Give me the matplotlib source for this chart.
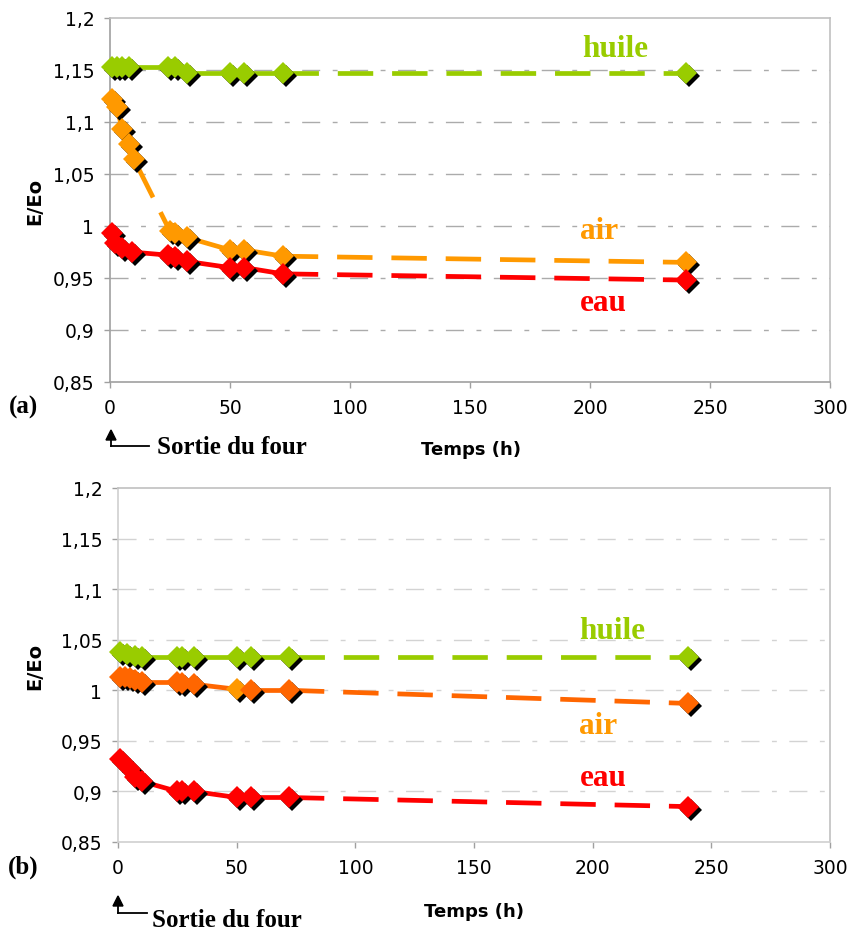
import matplotlib
matplotlib.use("Agg")
import matplotlib.pyplot as plt
import matplotlib.transforms as mtransforms
from matplotlib.lines import Line2D

# ---------------- data ----------------
x_ticks = [0, 50, 100, 150, 200, 250, 300]
y_ticks = [0.85, 0.9, 0.95, 1.0, 1.05, 1.1, 1.15, 1.2]

# (a)
t_a_huile = [1, 3, 5, 8, 24, 27, 32, 50, 56, 72, 240]
v_a_huile = [1.153, 1.153, 1.153, 1.153, 1.153, 1.153, 1.147, 1.147, 1.147, 1.147, 1.147]
t_a_air = [1, 3, 5, 8, 10, 25, 27, 32, 50, 56, 72, 240]
v_a_air = [1.122, 1.114, 1.093, 1.079, 1.064, 0.995, 0.993, 0.989, 0.977, 0.977, 0.971, 0.965]
t_a_eau = [1, 2, 5, 9, 24, 27, 32, 50, 56, 72, 240]
v_a_eau = [0.993, 0.984, 0.979, 0.975, 0.972, 0.970, 0.966, 0.960, 0.960, 0.954, 0.948]

# (b)
t_b_huile = [1, 4, 7, 10, 25, 27, 32, 50, 56, 72, 240]
v_b_huile = [1.038, 1.036, 1.034, 1.033, 1.033, 1.033, 1.033, 1.033, 1.033, 1.033, 1.033]
t_b_air = [1, 3, 5, 7, 10, 25, 27, 32, 50, 56, 72, 240]
v_b_air = [1.013, 1.013, 1.012, 1.010, 1.008, 1.008, 1.007, 1.006, 1.001, 1.000, 1.000, 0.987]
t_b_eau = [1, 5, 7, 10, 25, 27, 32, 50, 56, 72, 240]
v_b_eau = [0.932, 0.922, 0.914, 0.910, 0.900, 0.900, 0.900, 0.894, 0.894, 0.894, 0.885]

GREEN = "#99CC00"
ORANGE = "#FF9900"
ORANGE_B = "#FF6600"
RED = "#FF0000"

W, H = 852, 937
fig = plt.figure(figsize=(W / 100, H / 100), dpi=100)


def px_axes(l, t, r, b):
    return fig.add_axes([l / W, 1 - b / H, (r - l) / W, (b - t) / H])


def fmt(v):
    s = f"{v:g}"
    return s.replace(".", ",")


def style_axes(ax, gridcol, axcol):
    ax.set_xlim(0, 300)
    ax.set_ylim(0.85, 1.2)
    ax.set_xticks(x_ticks)
    ax.set_xticklabels([str(v) for v in x_ticks])
    ax.set_yticks(y_ticks)
    ax.set_yticklabels([fmt(v) for v in y_ticks])
    ax.tick_params(axis="both", direction="out", length=4.3, width=1,
                   color="#A0A0A0", labelsize=13.5, pad=7, labelcolor="black")
    for side in ["top", "right"]:
        ax.spines[side].set_color("#C0C0C0")
        ax.spines[side].set_linewidth(1.2)
    for side in ["left", "bottom"]:
        ax.spines[side].set_color(axcol)
        ax.spines[side].set_linewidth(1.2)
    for v in y_ticks[1:-1]:
        ax.axhline(v, color=gridcol, lw=1.0, dashes=(13, 9, 3.5, 9), zorder=0.5)


def draw_series(ax, t, v, color, dashed_segments, marker_colors=None,
                gap_segments=()):
    n = len(t)
    for k in range(n - 1):
        seg_t = [t[k], t[k + 1]]
        seg_v = [v[k], v[k + 1]]
        if k in dashed_segments:
            ax.plot(seg_t, seg_v, color=color, lw=3.4, dashes=(7.5, 4),
                    dash_capstyle="butt", zorder=2)
        elif k in gap_segments:
            ax.plot(seg_t, seg_v, color=color, lw=3.4, dashes=(9, 3.5),
                    dash_capstyle="butt", zorder=2)
        else:
            ax.plot(seg_t, seg_v, color=color, lw=3.4, solid_capstyle="round",
                    zorder=2)
    shadow = mtransforms.offset_copy(ax.transData, fig=fig, x=3, y=-3,
                                     units="dots")
    ax.plot(t, v, ls="none", marker="D", ms=11, mew=0, color="black",
            transform=shadow, zorder=3, clip_on=False)
    cols = marker_colors if marker_colors else [color] * n
    for ti, vi, c in zip(t, v, cols):
        ax.plot([ti], [vi], ls="none", marker="D", ms=11, mew=0, color=c,
                zorder=4, clip_on=False)


# ---------------- (a) ----------------
axa = px_axes(110, 19, 830, 383)
style_axes(axa, "#ABABAB", "#A0A0A0")
draw_series(axa, t_a_huile, v_a_huile, GREEN, {len(t_a_huile) - 2})
draw_series(axa, t_a_air, v_a_air, ORANGE, {len(t_a_air) - 2},
            gap_segments={4})
draw_series(axa, t_a_eau, v_a_eau, RED, {len(t_a_eau) - 2})

# ---------------- (b) ----------------
axb = px_axes(118, 489, 830, 843)
style_axes(axb, "#D3D3D3", "#D0D0D0")
draw_series(axb, t_b_huile, v_b_huile, GREEN, {len(t_b_huile) - 2})
b_air_cols = [ORANGE_B] * len(t_b_air)
b_air_cols[8] = ORANGE
draw_series(axb, t_b_air, v_b_air, ORANGE_B, {len(t_b_air) - 2}, b_air_cols)
draw_series(axb, t_b_eau, v_b_eau, RED, {len(t_b_eau) - 2})

# ---------------- texts ----------------
serif = ["Liberation Serif", "DejaVu Serif"]


def ftext(x, y, s, **kw):
    fig.text(x / W, 1 - y / H, s, **kw)


ftext(35, 201, "E/Eo", rotation=90, ha="center", va="center",
      fontsize=14, fontweight="bold")
ftext(35, 666, "E/Eo", rotation=90, ha="center", va="center",
      fontsize=14, fontweight="bold")

ftext(471, 450, "Temps (h)", ha="center", va="center", fontsize=13,
      fontweight="bold")
ftext(474, 912, "Temps (h)", ha="center", va="center", fontsize=13,
      fontweight="bold")

# series labels
lab = dict(family=serif, fontweight="bold", fontsize=22.5, ha="center",
           va="baseline")
ftext(615, 57, "huile", color=GREEN, **lab)
ftext(599, 239, "air", color=ORANGE, **lab)
ftext(603, 311, "eau", color=RED, **lab)
ftext(612, 639, "huile", color=GREEN, **lab)
ftext(598, 734, "air", color=ORANGE, **lab)
ftext(603, 786, "eau", color=RED, **lab)

# panel letters
ftext(23, 414, "(a)", family=serif, fontweight="bold", fontsize=18,
      ha="center", va="baseline")
ftext(23, 874, "(b)", family=serif, fontweight="bold", fontsize=18,
      ha="center", va="baseline")

# "Sortie du four" + arrows
ftext(157, 454, "Sortie du four", family=serif, fontweight="bold",
      fontsize=18, ha="left", va="baseline")
ftext(152, 927, "Sortie du four", family=serif, fontweight="bold",
      fontsize=18, ha="left", va="baseline")

for xa, ytop, ybot, xend in [(111, 431, 447, 149), (118, 897, 914, 147)]:
    fig.add_artist(Line2D([xa / W, xend / W], [1 - ybot / H, 1 - ybot / H],
                          color="black", lw=1.3))
    fig.add_artist(Line2D([xa / W, xa / W], [1 - ybot / H, 1 - (ytop + 6) / H],
                          color="black", lw=1.3))
    fig.patches.append(plt.Polygon(
        [((xa - 5) / W, 1 - (ytop + 10) / H), ((xa + 5) / W, 1 - (ytop + 10) / H),
         (xa / W, 1 - ytop / H)], closed=True, color="black",
        transform=fig.transFigure, figure=fig))

fig.savefig("out.png", dpi=100)
